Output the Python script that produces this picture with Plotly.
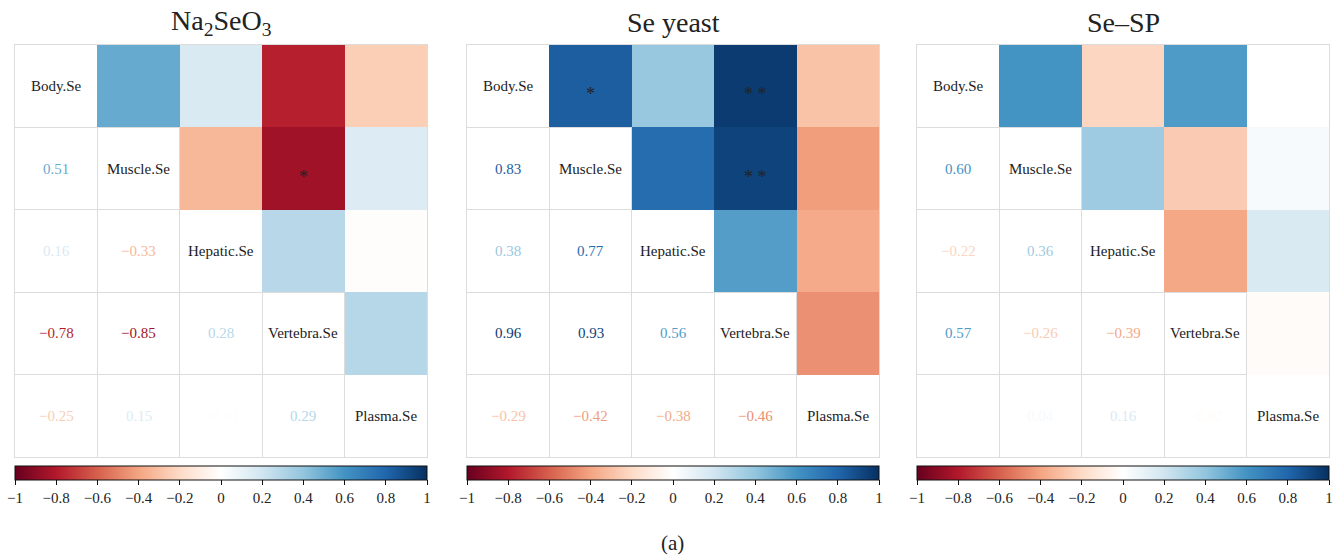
import plotly.graph_objects as go
from plotly.colors import sample_colorscale

variables = ["Body.Se", "Muscle.Se", "Hepatic.Se", "Vertebra.Se", "Plasma.Se"]
panel_titles = ["Na<sub>2</sub>SeO<sub>3</sub>", "Se yeast", "Se\u2013SP"]

# pairwise correlations (i<j) in order: (0,1),(0,2),(0,3),(0,4),(1,2),(1,3),(1,4),(2,3),(2,4),(3,4)
corr_na2seo3 = [0.51, 0.16, -0.78, -0.25, -0.33, -0.85, 0.15, 0.28, -0.01, 0.29]
corr_se_yeast = [0.83, 0.38, 0.96, -0.29, 0.77, 0.93, -0.42, 0.56, -0.38, -0.46]
corr_se_sp = [0.60, -0.22, 0.57, 0.00, 0.36, -0.26, 0.04, -0.39, 0.16, -0.02]

sig_na2seo3 = ["", "", "", "", "", "*", "", "", "", ""]
sig_se_yeast = ["*", "", "* *", "", "", "* *", "", "", "", ""]
sig_se_sp = ["", "", "", "", "", "", "", "", "", ""]

cbar_ticks = [-1, -0.8, -0.6, -0.4, -0.2, 0, 0.2, 0.4, 0.6, 0.8, 1]

colorscale = [
    [0.0, "#67001f"], [0.1, "#b2182b"], [0.2, "#d6604d"], [0.3, "#f4a582"],
    [0.4, "#fddbc7"], [0.5, "#ffffff"], [0.6, "#d1e5f0"], [0.7, "#92c5de"],
    [0.8, "#4393c3"], [0.9, "#2166ac"], [1.0, "#053061"],
]

W, H = 1335, 554
panels_px = [(15, 427), (467, 879), (917, 1329)]
top_px, bot_px = 45, 457
FONT = "Liberation Serif"

pairs = [(i, j) for i in range(5) for j in range(i + 1, 5)]
datasets = [corr_na2seo3, corr_se_yeast, corr_se_sp]
sigs = [sig_na2seo3, sig_se_yeast, sig_se_sp]

fig = go.Figure()
annotations = []
n = len(variables)
for p, (vals, sg) in enumerate(zip(datasets, sigs)):
    x0, x1 = panels_px[p]
    sfx = "" if p == 0 else str(p + 1)
    z = [[None] * n for _ in range(n)]
    for (i, j), v in zip(pairs, vals):
        z[i][j] = v
    fig.add_trace(go.Heatmap(
        z=z, x=list(range(n)), y=list(range(n)),
        coloraxis="coloraxis" + sfx, xaxis="x" + sfx, yaxis="y" + sfx,
        hoverongaps=False,
    ))
    ax = dict(
        domain=[x0 / W, x1 / W], range=[-0.5, n - 0.5],
        tickvals=[k + 0.5 for k in range(-1, n)], showticklabels=False, ticks="",
        showgrid=True, gridcolor="#dcdcdc", gridwidth=1, zeroline=False,
        showline=True, mirror=True, linecolor="#dcdcdc", linewidth=1,
        fixedrange=True, anchor="y" + sfx,
    )
    ay = dict(ax)
    ay["domain"] = [1 - bot_px / H, 1 - top_px / H]
    ay["range"] = [n - 0.5, -0.5]
    ay["anchor"] = "x" + sfx
    fig.layout["xaxis" + sfx] = ax
    fig.layout["yaxis" + sfx] = ay

    cx = (x0 + x1) / 2 / W
    fig.layout["coloraxis" + sfx] = dict(
        colorscale=colorscale, cmin=-1, cmax=1,
        colorbar=dict(
            orientation="h", x=cx, xanchor="center", y=1 - 466 / H, yanchor="top",
            len=(x1 - x0) / W, lenmode="fraction", thickness=14,
            xpad=0, ypad=0, outlinecolor="#111", outlinewidth=1,
            tickvals=cbar_ticks, ticks="outside", ticklen=5, tickcolor="#111",
            tickfont=dict(family=FONT, size=15, color="#222"),
        ),
    )

    # lower triangle numbers
    for (i, j), v in zip(pairs, vals):
        col = sample_colorscale(colorscale, [(v + 1) / 2])[0]
        txt = f"{v:.2f}".replace("-", "\u2212")
        annotations.append(dict(x=i, y=j, xref="x" + sfx, yref="y" + sfx, text=txt,
                                showarrow=False, font=dict(family=FONT, size=15, color=col)))
    # significance marks in upper triangle
    for (i, j), s in zip(pairs, sg):
        if s:
            annotations.append(dict(x=j, y=i + 0.1, xref="x" + sfx, yref="y" + sfx, text=s,
                                    showarrow=False, font=dict(family=FONT, size=18, color="#222")))
    # diagonal labels
    for k, name in enumerate(variables):
        annotations.append(dict(x=k, y=k, xref="x" + sfx, yref="y" + sfx, text=name,
                                showarrow=False, font=dict(family=FONT, size=15, color="#222")))
    # panel title
    annotations.append(dict(x=cx, y=1 - 22 / H, xref="paper", yref="paper", text=panel_titles[p],
                            xanchor="center", yanchor="middle",
                            showarrow=False, font=dict(family=FONT, size=28, color="#222")))

annotations.append(dict(x=672 / W, y=1 - 543 / H, xref="paper", yref="paper", text="(a)",
                        xanchor="center", yanchor="middle",
                        showarrow=False, font=dict(family=FONT, size=21, color="#222")))

fig.update_layout(
    width=W, height=H, margin=dict(l=0, r=0, t=0, b=0, autoexpand=False),
    paper_bgcolor="white", plot_bgcolor="white",
    annotations=annotations, showlegend=False,
)

fig.write_html("out.html", config={"displayModeBar": False},
               post_script="document.body.style.margin='0';")
